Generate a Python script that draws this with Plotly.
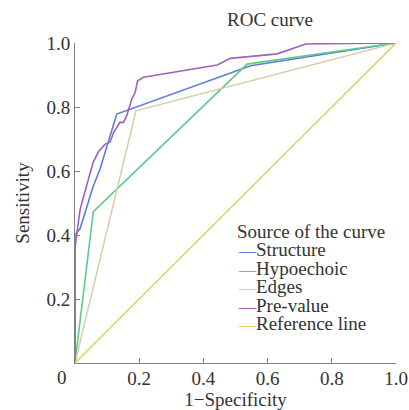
import plotly.graph_objects as go

# ---- data ----
series_names = ["Structure", "Hypoechoic", "Edges", "Pre-value", "Reference line"]

structure_fpr = [0, 0, 0.016, 0.056, 0.078, 0.13, 0.547, 1]
structure_tpr = [0, 0.40, 0.42, 0.55, 0.606, 0.778, 0.929, 1]

hypoechoic_fpr = [0, 0.057, 0.536, 1]
hypoechoic_tpr = [0, 0.473, 0.934, 1]

edges_fpr = [0, 0.19, 1]
edges_tpr = [0, 0.788, 1]

prevalue_fpr = [0, 0, 0.005, 0.016, 0.036, 0.057, 0.073, 0.094, 0.109, 0.12, 0.14, 0.151,
                0.161, 0.177, 0.1875, 0.195, 0.213, 0.431, 0.443, 0.484, 0.63, 0.719, 1]
prevalue_tpr = [0, 0.36, 0.40, 0.48, 0.554, 0.628, 0.66, 0.684, 0.69, 0.72, 0.752, 0.752,
                0.773, 0.825, 0.846, 0.882, 0.893, 0.928, 0.931, 0.952, 0.966, 0.997, 1]

reference_fpr = [0, 1]
reference_tpr = [0, 1]

tick_values = [0.2, 0.4, 0.6, 0.8, 1.0]
tick_labels = ["0.2", "0.4", "0.6", "0.8", "1.0"]

colors = ["#5b7fd3", "#5fca8c", "#d6d0ae", "#9c62c2", "#e2d56f"]

FONT = "Liberation Serif, Times New Roman, serif"
TXT = "#333333"
AX = "#808080"
FS = 19

xs = [structure_fpr, hypoechoic_fpr, edges_fpr, prevalue_fpr, reference_fpr]
ys = [structure_tpr, hypoechoic_tpr, edges_tpr, prevalue_tpr, reference_tpr]

fig = go.Figure()
for name, x, y, c in zip(series_names, xs, ys, colors):
    fig.add_trace(go.Scatter(x=x, y=y, mode="lines", name=name,
                             line=dict(color=c, width=1.6), showlegend=False))

W, H = 409, 410
L, R, T, B = 75, 13, 43, 47
pw, ph = W - L - R, H - T - B

def px2paper(px, py):
    return (px - L) / pw, (H - B - py) / ph

annotations = []
# corner "0" label shared by both axes
cx, cy = px2paper(61.5, 377.5)
annotations.append(dict(text="0", x=cx, y=cy, xref="paper", yref="paper",
                        xanchor="center", yanchor="middle", showarrow=False,
                        font=dict(family=FONT, size=FS, color=TXT)))

# legend block (title + entries with short coloured line samples)
lx = 235
rows_y = [231, 249.5, 268, 286.5, 305, 323.5]
tx, ty = px2paper(lx, rows_y[0])
annotations.append(dict(text="Source of the curve", x=tx, y=ty, xref="paper", yref="paper",
                        xanchor="left", yanchor="middle", showarrow=False,
                        font=dict(family=FONT, size=FS, color=TXT)))
for name, c, ry in zip(series_names, colors, rows_y[1:]):
    ax_, ay_ = px2paper(lx + 1, ry)
    annotations.append(dict(
        text=f'<span style="color:{c};font-size:17px">—</span>{name}',
        x=ax_, y=ay_, xref="paper", yref="paper",
        xanchor="left", yanchor="middle", showarrow=False,
        font=dict(family=FONT, size=FS, color=TXT)))

axis_common = dict(
    range=[0, 1], showline=True, linecolor=AX, linewidth=1,
    ticks="inside", ticklen=5, tickcolor=AX, tickwidth=1,
    showgrid=False, zeroline=False, automargin=False,
    tickvals=tick_values, ticktext=tick_labels,
    tickfont=dict(family=FONT, size=FS, color=TXT),
    fixedrange=True, layer="above traces",
)

fig.update_layout(
    template="none",
    width=W, height=H,
    margin=dict(l=L, r=R, t=T, b=B, pad=0),
    paper_bgcolor="white", plot_bgcolor="white",
    font=dict(family=FONT, size=FS, color=TXT),
    title=dict(text="ROC curve", x=270 / W, xanchor="center",
               y=1 - 19 / H, yanchor="middle", yref="container",
               font=dict(family=FONT, size=FS, color=TXT)),
    xaxis=dict(**axis_common, ticklabelstandoff=-2,
               title=dict(text="1−Specificity", standoff=4,
                          font=dict(family=FONT, size=FS, color=TXT))),
    yaxis=dict(**axis_common,
               title=dict(text="Sensitivity", standoff=11,
                          font=dict(family=FONT, size=FS, color=TXT))),
    annotations=annotations,
    showlegend=False,
)

fig.write_html("out.html", config={"displayModeBar": False, "staticPlot": True},
               post_script="document.body.style.margin='0px';")
